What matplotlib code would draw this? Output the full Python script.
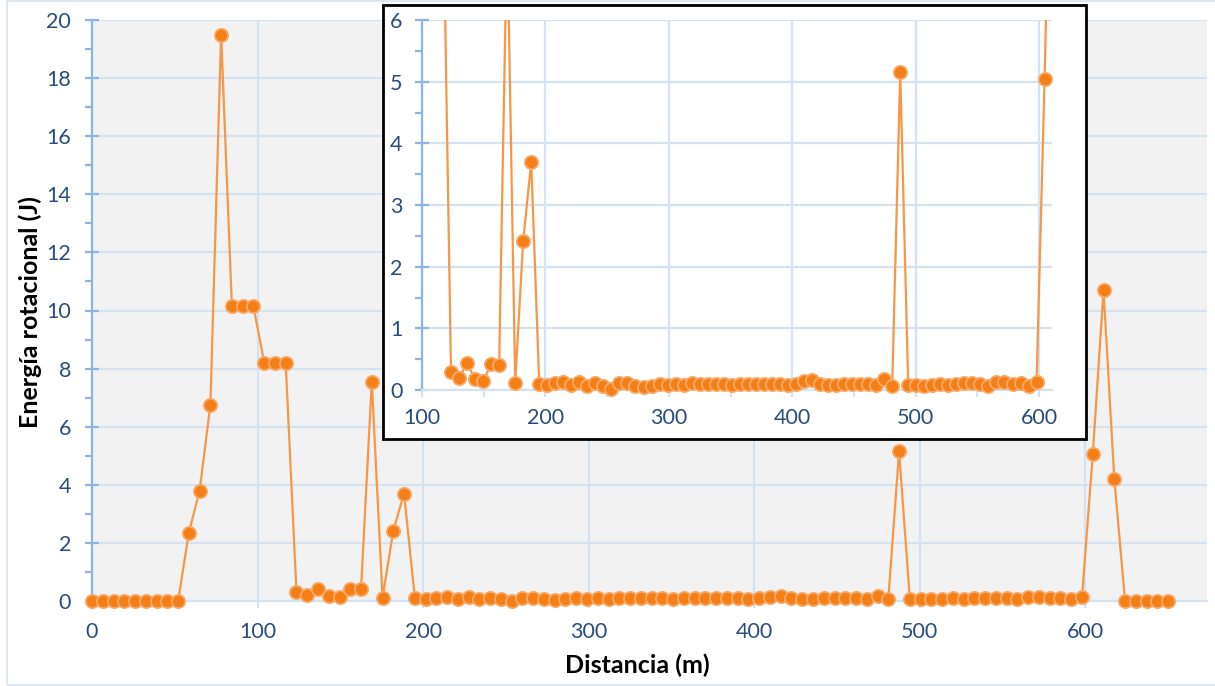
import numpy as np
import matplotlib
matplotlib.use("Agg")
import matplotlib.pyplot as plt
from matplotlib.patches import Rectangle
from matplotlib.ticker import MultipleLocator

plt.rcParams['font.family'] = ['Lato', 'DejaVu Sans']

# ---- data ----
step_m = 6.5
energia = [
    0, 0, 0, 0, 0, 0, 0, 0, 0,                      # 0 - 52
    2.35, 3.8, 6.75, 19.5, 10.15, 10.15, 10.15,     # 58.5 - 97.5
    8.2, 8.2, 8.2, 0.3, 0.2, 0.43, 0.18, 0.14,      # 104 - 149.5
    0.42, 0.4, 7.55, 0.12, 2.42, 3.7,               # 156 - 188.5
    0.10, 0.08, 0.11, 0.13, 0.08, 0.13, 0.07, 0.12, 0.07, 0.01,
    0.12, 0.11, 0.07, 0.05, 0.06, 0.10, 0.08, 0.09, 0.08, 0.11,
    0.09, 0.09, 0.09, 0.09, 0.08, 0.09, 0.09, 0.10, 0.09, 0.09,
    0.09, 0.08, 0.09, 0.14, 0.17, 0.10, 0.08, 0.08, 0.09, 0.09,
    0.10, 0.09, 0.08, 0.18, 0.06, 5.15, 0.08, 0.08, 0.07, 0.08,
    0.09, 0.08, 0.10, 0.12, 0.11, 0.09, 0.07, 0.13, 0.13, 0.09,
    0.12, 0.06, 0.13, 5.05, 10.7, 4.2, 0, 0, 0, 0, 0,
]
distancia = np.arange(len(energia)) * step_m
energia = np.array(energia)

main_yticks = list(range(0, 21, 2))
main_xticks = [0, 100, 200, 300, 400, 500, 600]
inset_yticks = [0, 1, 2, 3, 4, 5, 6]
inset_xticks = [100, 200, 300, 400, 500, 600]

xlabel = "Distancia (m)"
ylabel = "Energía rotacional (J)"

# ---- styles ----
W, H = 1215, 686
tick_col = '#2A4D7E'
spine_col = '#8EB4E3'
grid_col = '#D5E2F2'
line_col = '#F79646'
face_col = '#F47F16'
edge_col = '#F9A866'
tick_fs = 15.5
label_fs = 18

fig = plt.figure(figsize=(W / 100, H / 100), dpi=100)
fig.patch.set_facecolor('white')

# outer chart border
fig.add_artist(Rectangle((7 / W, 1 / H), 1.2, 684 / H, transform=fig.transFigure,
                         fill=False, edgecolor='#D9E3EF', linewidth=1.2, zorder=0))

def fx(px):
    return px / W

def fy(py):
    return 1 - py / H

# ---- main axes ----
ax = fig.add_axes([fx(92), fy(601), fx(1207) - fx(92), fy(20) - fy(601)], zorder=0)
ax.set_facecolor('#F2F2F2')
ax.set_xlim(0, 673.5)
ax.set_ylim(0, 20)
ax.set_yticks(main_yticks)
ax.set_xticks(main_xticks)
ax.yaxis.set_minor_locator(MultipleLocator(1))
ax.grid(True, which='major', color=grid_col, linewidth=1.6)
ax.set_axisbelow(True)
for s in ['top', 'right']:
    ax.spines[s].set_visible(False)
ax.spines['left'].set_color(spine_col)
ax.spines['left'].set_linewidth(1.6)
ax.spines['bottom'].set_color(grid_col)
ax.spines['bottom'].set_linewidth(1.6)
ax.tick_params(axis='y', which='major', direction='inout', length=10, width=1.6,
               color=spine_col, labelcolor=tick_col, labelsize=tick_fs, pad=10)
ax.tick_params(axis='y', which='minor', direction='out', length=5, width=1.6,
               color=spine_col)
ax.tick_params(axis='x', which='major', direction='out', length=5, width=1.6,
               color=grid_col, labelcolor=tick_col, labelsize=tick_fs, pad=10)
ax.plot(distancia, energia, color=line_col, linewidth=1.6, marker='o',
        markersize=9.5, markerfacecolor=face_col, markeredgecolor=edge_col,
        markeredgewidth=1.3, clip_on=False, zorder=3)

fig.text(fx(30), fy(312), ylabel, rotation=90, ha='center', va='center',
         fontsize=label_fs, fontweight='bold', color='black')
fig.text(fx(637), fy(665), xlabel, ha='center', va='center',
         fontsize=label_fs, fontweight='bold', color='black')

# ---- inset ----
fig.add_artist(Rectangle((fx(383), fy(439)), fx(1086) - fx(383), fy(5) - fy(439),
                         transform=fig.transFigure, facecolor='white',
                         edgecolor='black', linewidth=2, zorder=1))
axi = fig.add_axes([fx(422), fy(390), fx(1052) - fx(422), fy(20) - fy(390)], zorder=2)
axi.set_facecolor('white')
axi.set_xlim(100, 610.5)
axi.set_ylim(0, 6)
axi.set_yticks(inset_yticks)
axi.set_xticks(inset_xticks)
axi.yaxis.set_minor_locator(MultipleLocator(0.5))
axi.xaxis.set_minor_locator(MultipleLocator(50))
axi.grid(True, which='major', color=grid_col, linewidth=1.6)
axi.set_axisbelow(True)
for s in ['top', 'right']:
    axi.spines[s].set_visible(False)
axi.spines['left'].set_color(spine_col)
axi.spines['left'].set_linewidth(1.6)
axi.spines['bottom'].set_color(grid_col)
axi.spines['bottom'].set_linewidth(1.6)
axi.tick_params(axis='y', which='major', direction='inout', length=10, width=1.6,
                color=spine_col, labelcolor=tick_col, labelsize=tick_fs, pad=9)
axi.tick_params(axis='y', which='minor', direction='out', length=5, width=1.6,
                color=spine_col)
axi.tick_params(axis='x', which='both', direction='out', length=5, width=1.6,
                color=grid_col, labelcolor=tick_col, labelsize=tick_fs, pad=8)
axi.plot(distancia, energia, color=line_col, linewidth=1.6, zorder=3)
vis = (distancia >= 100) & (distancia <= 610.5) & (energia <= 6)
axi.plot(distancia[vis], energia[vis], linestyle='none', marker='o',
         markersize=9.5, markerfacecolor=face_col, markeredgecolor=edge_col,
         markeredgewidth=1.3, clip_on=False, zorder=4)

fig.savefig('out.png', dpi=100)
